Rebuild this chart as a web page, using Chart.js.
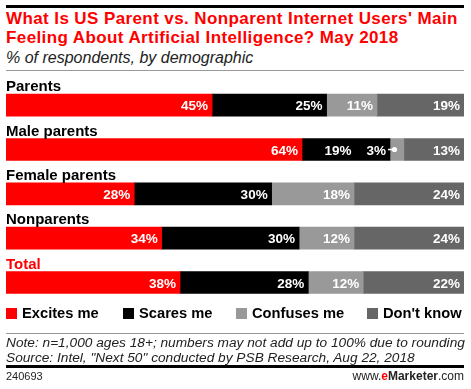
<!DOCTYPE html>
<html>
<head>
<meta charset="utf-8">
<script src="https://cdn.jsdelivr.net/npm/chart.js@4.4.0/dist/chart.umd.min.js"></script>
<style>
  body { margin: 0; background: #fff; font-family: "Liberation Sans", Arial, sans-serif; }
  #wrap { position: relative; width: 471px; height: 389px; overflow: hidden; }
  .abs { position: absolute; }
  .rule { position: absolute; left: 6px; width: 458px; }
  #title { left: 6px; top: 10px; width: 470px; font-size: 17px; line-height: 18.5px; font-weight: bold; color: #ff0000; letter-spacing: 0.4px; white-space: nowrap; }
  #subtitle { left: 6px; top: 50px; font-size: 16px; line-height: 16px; font-style: italic; color: #222; white-space: nowrap; }
  .leg { position: absolute; top: 304px; font-size: 14.7px; font-weight: bold; line-height: 18px; color: #000; white-space: nowrap; }
  .sw { position: absolute; top: 308px; width: 11px; height: 11px; }
  #notes { left: 6px; top: 335px; font-size: 13.7px; line-height: 15px; font-style: italic; color: #222; white-space: nowrap; }
  #code { left: 6px; top: 370px; font-size: 11px; color: #222; }
  #brand { right: 7px; top: 369px; font-size: 12px; color: #222; }
  canvas { position: absolute; left: 0; top: 0; }
</style>
</head>
<body>
<div id="wrap">
  <div class="rule" style="top:5px;height:3px;background:#000"></div>
  <div id="title" class="abs">What Is US Parent vs. Nonparent Internet Users' Main<br>Feeling About Artificial Intelligence? May 2018</div>
  <div id="subtitle" class="abs">% of respondents, by demographic</div>
  <div class="rule" style="top:70px;height:1px;background:#999"></div>

  <canvas id="aiChart" width="471" height="389"></canvas>

  <div id="legend"></div>
  <div class="rule" style="top:333px;height:1px;background:#999"></div>
  <div id="notes" class="abs">Note: n=1,000 ages 18+; numbers may not add up to 100% due to rounding<br>Source: Intel, "Next 50" conducted by PSB Research, Aug 22, 2018</div>
  <div class="rule" style="top:365px;height:3px;background:#000"></div>
  <div id="code" class="abs">240693</div>
  <div id="brand" class="abs">www.<b style="color:#ff0000">e</b><b>Marketer</b>.com</div>
</div>

<script>
var categories = ["Parents", "Male parents", "Female parents", "Nonparents", "Total"];
var seriesNames = ["Excites me", "Scares me", "Confuses me", "Don't know"];
var excites  = [45, 64, 28, 34, 38];
var scares   = [25, 19, 30, 30, 28];
var confuses = [11,  3, 18, 12, 12];
var dontKnow = [19, 13, 24, 24, 22];

var colors = ["#ff0000", "#000000", "#999999", "#666666"];
var rawSeries = [excites, scares, confuses, dontKnow];

// each row fills the full width (shares of the row total)
var rowTotals = categories.map(function(c, j){
  var t = 0;
  rawSeries.forEach(function(s){ t += s[j]; });
  return t;
});

var datasets = rawSeries.map(function(s, i){
  return {
    label: seriesNames[i],
    data: s.map(function(v, j){ return v / rowTotals[j] * 100; }),
    raw: s,
    backgroundColor: colors[i],
    borderWidth: 0,
    barThickness: 22
  };
});

// legend (html)
var legendX = [6, 123, 236, 367];
var legendEl = document.getElementById("legend");
seriesNames.forEach(function(name, i){
  var sw = document.createElement("div");
  sw.className = "sw";
  sw.style.left = legendX[i] + "px";
  sw.style.background = colors[i];
  legendEl.appendChild(sw);
  var t = document.createElement("div");
  t.className = "leg";
  t.style.left = (legendX[i] + 16) + "px";
  t.textContent = name;
  legendEl.appendChild(t);
});

var labelFont = "bold 13.5px 'Liberation Sans', Arial, sans-serif";
var catFont = "bold 15px 'Liberation Sans', Arial, sans-serif";

var barLabels = {
  id: "barLabels",
  afterDatasetsDraw: function(chart){
    var ctx = chart.ctx;
    ctx.save();
    ctx.font = labelFont;
    ctx.textBaseline = "alphabetic";
    var n = chart.data.labels.length;
    for (var j = 0; j < n; j++) {
      // work right to left so a small segment can push its neighbour's label
      var limit = null;
      for (var i = chart.data.datasets.length - 1; i >= 0; i--) {
        var ds = chart.data.datasets[i];
        var el = chart.getDatasetMeta(i).data[j];
        var txt = ds.raw[j] + "%";
        var w = ctx.measureText(txt).width;
        var left = Math.min(el.base, el.x), right = Math.max(el.base, el.x);
        var yb = el.y + 5;
        ctx.fillStyle = "#fff";
        ctx.textAlign = "right";
        if (right - left < w + 8) {
          var dotX = left + 4.5;
          var tx = left - 4;
          ctx.strokeStyle = "#fff";
          ctx.lineWidth = 1.5;
          ctx.beginPath();
          ctx.moveTo(tx + 2, el.y);
          ctx.lineTo(dotX, el.y);
          ctx.stroke();
          ctx.beginPath();
          ctx.arc(dotX, el.y, 2.6, 0, Math.PI * 2);
          ctx.fill();
          ctx.fillText(txt, tx, yb);
          limit = tx - w - 15;
        } else {
          var rx = right - 4;
          if (limit !== null && rx > limit) rx = limit;
          ctx.fillText(txt, rx, yb);
          limit = null;
        }
      }
      // category name above the bar
      var first = chart.getDatasetMeta(0).data[j];
      ctx.font = catFont;
      ctx.textAlign = "left";
      ctx.fillStyle = chart.data.labels[j] === "Total" ? "#ff0000" : "#000";
      ctx.fillText(chart.data.labels[j], chart.chartArea.left, first.y - 11 - 3);
      ctx.font = labelFont;
    }
    ctx.restore();
  }
};

var aiChart = new Chart(document.getElementById("aiChart"), {
  type: "bar",
  data: { labels: categories, datasets: datasets },
  options: {
    indexAxis: "y",
    responsive: false,
    animation: false,
    layout: { padding: { left: 6, right: 7, top: 83, bottom: 84.3 } },
    plugins: { legend: { display: false }, tooltip: { enabled: false } },
    scales: {
      x: { stacked: true, min: 0, max: 100, display: false },
      y: { stacked: true, display: false }
    }
  },
  plugins: [barLabels]
});
</script>
</body>
</html>
